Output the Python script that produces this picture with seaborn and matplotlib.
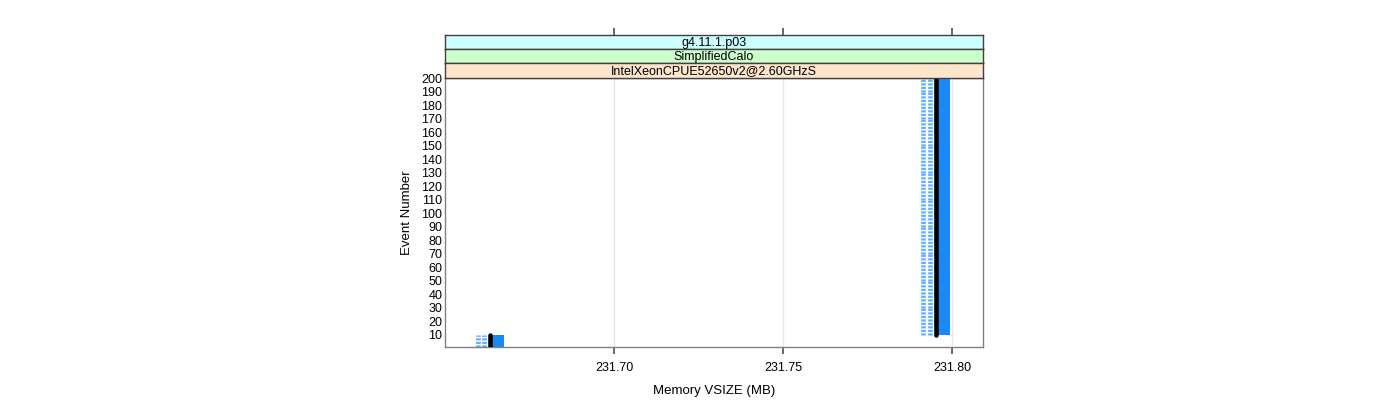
import matplotlib
matplotlib.use("Agg")
import matplotlib.pyplot as plt
import seaborn as sns

sns.set_theme(style="white")
plt.rcParams['font.family'] = ['Liberation Sans', 'DejaVu Sans']
plt.rcParams['text.color'] = 'black'
plt.rcParams['axes.labelcolor'] = 'black'
plt.rcParams['xtick.color'] = 'black'
plt.rcParams['ytick.color'] = 'black'
plt.rcParams['hatch.color'] = '#4fa3ff'
plt.rcParams['hatch.linewidth'] = 0.6

# event numbers and memory values
events = [1, 10, 20, 30, 40, 50, 60, 70, 80, 90, 100,
          110, 120, 130, 140, 150, 160, 170, 180, 190, 200]
dash_a = [231.6598] + [231.7915] * 20
dash_b = [231.6614] + [231.7934] * 20
median = [231.6633] + [231.7953] * 20
box_lo = [231.6639] + [231.7959] * 20
box_hi = [231.6675] + [231.7994] * 20

strips = ["g4.11.1.p03", "SimplifiedCalo", "IntelXeonCPUE52650v2@2.60GHzS"]
strip_cols = ["#ccffff", "#ccffcc", "#ffe5cc"]
xticks = [231.70, 231.75, 231.80]
yticks = events[1:]

fig = plt.figure(figsize=(14, 4), dpi=100)
ax = fig.add_axes([445/1400, 53/400, 538/1400, 269/400])

tops = events[1:] + [210]
heights = [t - e for e, t in zip(events, tops)]

ax.barh(events, [h - l for l, h in zip(box_lo, box_hi)], left=box_lo,
        height=heights, align="edge", color="#1a88f5", edgecolor="none",
        linewidth=0, hatch="-----", zorder=2)
for xs in (dash_a, dash_b):
    for x, e, t in zip(xs, events, tops):
        ax.plot([x, x], [e, t], color="#5fb0ff", lw=3.4,
                linestyle=(0, (0.45, 0.3)), solid_capstyle="butt", zorder=2)
for x, e, t in zip(median, events, tops):
    ax.plot([x, x], [e, t], color="black", lw=3.3,
            solid_capstyle="round", zorder=3)

ax.set_xlim(231.65, 231.8092)
ax.set_ylim(1.1, 200)
ax.set_xticks(xticks)
ax.set_xticklabels([f"{v:.2f}" for v in xticks])
ax.set_yticks(yticks)
ax.grid(axis="x", color="#e6e6e6", lw=1, zorder=0)
ax.tick_params(axis="x", direction="out", length=5, color="#555555",
               labelsize=9, pad=6, bottom=True)
ax.tick_params(axis="y", length=0, labelsize=9, pad=2)
for s in ax.spines.values():
    s.set_color("#808080")
    s.set_linewidth(1)
ax.set_xlabel("Memory VSIZE (MB)", fontsize=9.5, labelpad=8)
ax.set_ylabel("Event Number", fontsize=9.5, labelpad=6)

strip_bottoms = [351/400, 337/400, 322/400]
strip_heights = [14/400, 14/400, 15/400]
for name, col, b, h in zip(strips, strip_cols, strip_bottoms, strip_heights):
    sax = fig.add_axes([445/1400, b, 538/1400, h], sharex=ax)
    sax.set_facecolor(col)
    sax.set_yticks([])
    sax.text(0.5, 0.45, name, ha="center", va="center", fontsize=9,
             transform=sax.transAxes)
    sax.tick_params(axis="x", bottom=False, labelbottom=False,
                    top=(name == strips[0]), direction="out", length=5,
                    color="#555555")
    for s in sax.spines.values():
        s.set_color("#404040")
        s.set_linewidth(1)

fig.savefig("out.png", dpi=100)
